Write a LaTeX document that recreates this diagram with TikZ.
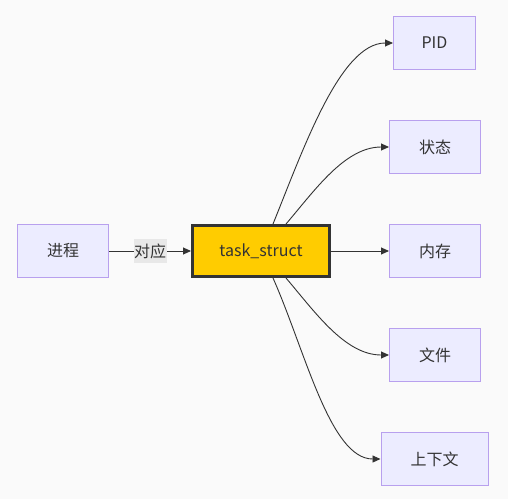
\documentclass[tikz,border=0pt]{standalone}
\usepackage{fontspec}
\setmainfont{Noto Sans CJK SC}
\usetikzlibrary{arrows.meta}
\definecolor{bgc}{HTML}{FAFAFA}
\definecolor{boxfill}{HTML}{ECECFF}
\definecolor{boxline}{HTML}{B8A0EE}
\definecolor{gold}{HTML}{FFCC00}
\definecolor{ink}{HTML}{333333}
\definecolor{lblbg}{HTML}{E8E8E8}
\tikzset{
  box/.style={draw=boxline, fill=boxfill, line width=1pt, minimum height=53pt, inner sep=0pt, text=ink, font=\fontsize{16}{19}\selectfont},
  mainbox/.style={draw=ink, fill=gold, line width=3pt, minimum width=137pt, minimum height=51pt, inner sep=0pt, text=ink, font=\fontsize{16}{19}\selectfont},
  conn/.style={draw=ink, line width=0.9pt, -{Triangle[length=8pt,width=7pt]}},
  lbl/.style={fill=lblbg, inner xsep=0.5pt, inner ysep=0pt, minimum height=24pt, text=ink, font=\fontsize{16}{19}\selectfont}
}
\begin{document}
\begin{tikzpicture}[x=1pt,y=-1pt]
\fill[bgc] (0,0) rectangle (508,499);
\useasboundingbox (0,0) rectangle (508,499);
\node[box, minimum width=91pt] (jc) at (63,251) {进程};
\node[mainbox] (ts) at (261,251) {task\_struct};
\node[box, minimum width=82pt] (pid) at (434.5,43) {PID};
\node[box, minimum width=91pt] (zt) at (435,147) {状态};
\node[box, minimum width=91pt] (nc) at (435,251) {内存};
\node[box, minimum width=91pt] (wj) at (435,355) {文件};
\node[box, minimum width=107pt] (sxw) at (434.5,459) {上下文};
\draw[conn] (jc.east) -- (ts.west) node[lbl, pos=0.5] (dy) {对应};
\draw[conn] ([xshift=12pt]ts.north) .. controls (303,150) and (340,43) .. (pid.west);
\draw[conn] ([xshift=25pt]ts.north) .. controls (315,190) and (345,147) .. (zt.west);
\draw[conn] (ts.east) -- (nc.west);
\draw[conn] ([xshift=25pt]ts.south) .. controls (315,312) and (345,355) .. (wj.west);
\draw[conn] ([xshift=12pt]ts.south) .. controls (305,350) and (330,459) .. (sxw.west);
\end{tikzpicture}
\end{document}
